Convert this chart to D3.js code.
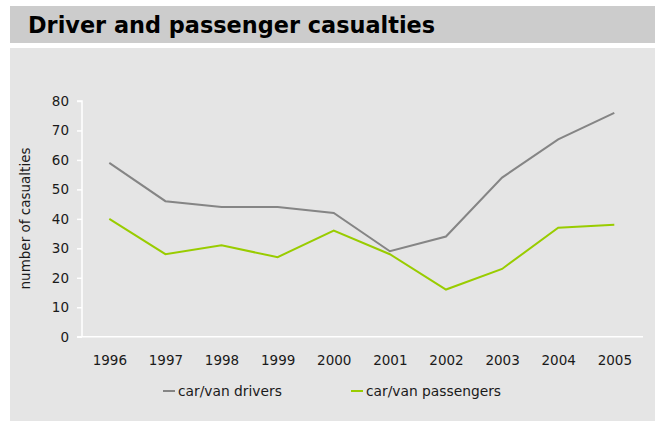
<!DOCTYPE html>
<html>
<head>
<meta charset="utf-8">
<script src="https://cdn.jsdelivr.net/npm/d3@7"></script>
<style>
  body { margin: 0; background: #fff; }
  svg text { font-family: "DejaVu Sans", Verdana, sans-serif; fill: #1a1a1a; }
</style>
</head>
<body>
<div id="chart"></div>
<script>
const years = [1996, 1997, 1998, 1999, 2000, 2001, 2002, 2003, 2004, 2005];
const drivers = [59, 46, 44, 44, 42, 29, 34, 54, 67, 76];
const passengers = [40, 28, 31, 27, 36, 28, 16, 23, 37, 38];
const yTicks = [0, 10, 20, 30, 40, 50, 60, 70, 80];

const width = 658;
const height = 421;

const series = [
    { name: "car/van drivers", values: drivers, color: "#858585" },
    { name: "car/van passengers", values: passengers, color: "#99cc00" }
];

const svg = d3.select("#chart")
    .append("svg")
    .attr("width", width)
    .attr("height", height);

// title band
svg.append("rect")
    .attr("x", 10).attr("y", 6)
    .attr("width", 645).attr("height", 37)
    .attr("fill", "#cccccc");

svg.append("text")
    .attr("x", 28).attr("y", 33)
    .attr("font-size", 22.4)
    .attr("font-weight", "bold")
    .style("fill", "#000")
    .text("Driver and passenger casualties");

// chart panel
svg.append("rect")
    .attr("x", 10).attr("y", 48)
    .attr("width", 645).attr("height", 373)
    .attr("fill", "#e5e5e5");

const x = d3.scalePoint()
    .domain(years)
    .range([109.3, 614.3]);

const y = d3.scaleLinear()
    .domain([0, 80])
    .range([336.7, 101]);

// y axis
const yAxis = svg.append("g")
    .attr("transform", "translate(82,0)")
    .call(d3.axisLeft(y).tickValues(yTicks).tickSize(5).tickPadding(8));
yAxis.select(".domain").attr("stroke", "#fff").attr("stroke-width", 1.5)
    .attr("d", "M-5," + y(80) + "H0V" + y(0));
yAxis.selectAll(".tick line").attr("stroke", "#fff").attr("stroke-width", 1.5);
yAxis.selectAll(".tick text").attr("font-size", 13.5).attr("font-family", null);

// x axis
const xAxis = svg.append("g")
    .attr("transform", "translate(0," + y(0) + ")")
    .call(d3.axisBottom(x).tickSize(0).tickPadding(19));
xAxis.select(".domain").attr("stroke", "#fff").attr("stroke-width", 1.5)
    .attr("d", "M77,0H643");
xAxis.selectAll(".tick text").attr("font-size", 13.5).attr("font-family", null);

svg.append("text")
    .attr("transform", "translate(30,218.5) rotate(-90)")
    .attr("text-anchor", "middle")
    .attr("font-size", 13.5)
    .text("number of casualties");

const line = d3.line()
    .x((d, i) => x(years[i]))
    .y(d => y(d));

svg.selectAll(".series")
    .data(series)
    .join("path")
    .attr("class", "series")
    .attr("fill", "none")
    .attr("stroke", d => d.color)
    .attr("stroke-width", 2)
    .attr("d", d => line(d.values));

// legend
const legendX = [163, 351];
const legend = svg.selectAll(".legend")
    .data(series)
    .join("g")
    .attr("class", "legend")
    .attr("transform", (d, i) => "translate(" + legendX[i] + ",391)");
legend.append("line")
    .attr("x1", 0).attr("x2", 12)
    .attr("stroke", d => d.color)
    .attr("stroke-width", 2);
legend.append("text")
    .attr("x", 15).attr("dy", "0.35em")
    .attr("font-size", 13.8)
    .text(d => d.name);
</script>
</body>
</html>
